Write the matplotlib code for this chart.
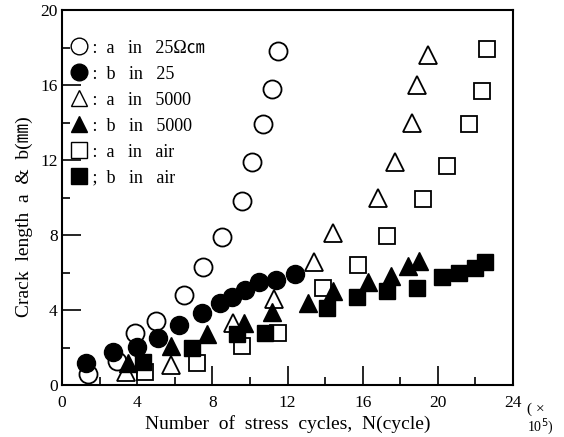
import matplotlib
matplotlib.use("Agg")
import matplotlib.pyplot as plt
from matplotlib.ticker import MultipleLocator
from matplotlib.lines import Line2D

plt.rcParams['font.family'] = ['Liberation Serif', 'Noto Sans CJK JP', 'DejaVu Sans']

# a in 25 ohm-cm (open circles)
a25_x = [1.4, 2.9, 3.9, 5.0, 6.5, 7.5, 8.5, 9.6, 10.1, 10.7, 11.2, 11.5]
a25_y = [0.6, 1.3, 2.8, 3.4, 4.8, 6.3, 7.9, 9.8, 11.9, 13.9, 15.8, 17.8]
# b in 25 (filled circles)
b25_x = [1.3, 2.7, 4.0, 5.1, 6.2, 7.45, 8.4, 9.05, 9.75, 10.5, 11.4, 12.4]
b25_y = [1.2, 1.75, 2.05, 2.5, 3.2, 3.85, 4.4, 4.7, 5.05, 5.5, 5.6, 5.9]
# a in 5000 (open triangles)
a5000_x = [3.4, 5.8, 9.1, 11.3, 13.4, 14.4, 16.8, 17.7, 18.6, 18.9, 19.5]
a5000_y = [0.7, 1.05, 3.3, 4.6, 6.55, 8.1, 10.0, 11.9, 14.0, 16.0, 17.6]
# b in 5000 (filled triangles)
b5000_x = [3.5, 5.8, 7.7, 9.7, 11.2, 13.1, 14.4, 16.3, 17.5, 18.4, 19.0]
b5000_y = [1.2, 2.1, 2.7, 3.3, 3.9, 4.4, 5.0, 5.5, 5.8, 6.35, 6.6]
# a in air (open squares)
aair_x = [4.4, 7.2, 9.6, 11.5, 13.9, 15.75, 17.3, 19.2, 20.5, 21.65, 22.35, 22.6]
aair_y = [0.7, 1.17, 2.1, 2.8, 5.2, 6.4, 7.95, 9.9, 11.7, 13.9, 15.7, 17.9]
# b in air (filled squares)
bair_x = [4.3, 6.9, 9.3, 10.8, 14.1, 15.7, 17.3, 18.9, 20.2, 21.1, 22.0, 22.5]
bair_y = [1.25, 2.0, 2.7, 2.8, 4.1, 4.7, 5.0, 5.2, 5.75, 6.0, 6.25, 6.55]

labels = [" :  a   in   25\u03a9\u339d", " :  b   in   25", " :  a   in   5000",
          " :  b   in   5000", " :  a   in   air", " ;  b   in   air"]

fig = plt.figure(figsize=(5.64, 4.37), dpi=100)
ax = fig.add_axes([0.11, 0.119, 0.7996, 0.858])

ms_c, ms_t, ms_s = 13, 13, 11
ax.plot(aair_x, aair_y, 's', ms=ms_s, mfc='white', mec='black', mew=1.3)
ax.plot(a5000_x, a5000_y, '^', ms=ms_t, mfc='white', mec='black', mew=1.3)
ax.plot(a25_x, a25_y, 'o', ms=ms_c, mfc='white', mec='black', mew=1.3)
ax.plot(bair_x, bair_y, 's', ms=ms_s, color='black')
ax.plot(b5000_x, b5000_y, '^', ms=ms_t, color='black')
ax.plot(b25_x, b25_y, 'o', ms=ms_c, color='black')

ax.set_xlim(0, 24)
ax.set_ylim(0, 20)
ax.xaxis.set_major_locator(MultipleLocator(4))
ax.xaxis.set_minor_locator(MultipleLocator(2))
ax.yaxis.set_major_locator(MultipleLocator(4))
ax.yaxis.set_minor_locator(MultipleLocator(2))
ax.tick_params(which='both', direction='in', labelsize=12.5, width=1.2)
ax.tick_params(which='major', length=14)
ax.tick_params(which='minor', length=6)
ax.tick_params(axis='x', pad=7)
ax.tick_params(axis='y', pad=3)
for s in ax.spines.values():
    s.set_linewidth(1.5)

ax.set_xlabel("Number  of  stress  cycles,  N(cycle)", fontsize=14, labelpad=3)
ax.set_ylabel("Crack  length  a  &  b(\u339c)", fontsize=14)
ax.yaxis.set_label_coords(-0.065, 0.45)
ax.text(1.03, -0.065, "( \u00d7", transform=ax.transAxes, fontsize=11, ha='left', va='center')
ax.text(1.03, -0.11, "10$^5$)", transform=ax.transAxes, fontsize=10, ha='left', va='center')

handles = [
    Line2D([], [], ls='', marker='o', ms=12, mfc='white', mec='black', mew=1.0),
    Line2D([], [], ls='', marker='o', ms=12, color='black'),
    Line2D([], [], ls='', marker='^', ms=12, mfc='white', mec='black', mew=1.0),
    Line2D([], [], ls='', marker='^', ms=12, color='black'),
    Line2D([], [], ls='', marker='s', ms=11, mfc='white', mec='black', mew=1.0),
    Line2D([], [], ls='', marker='s', ms=11, color='black'),
]
ax.legend(handles, labels, loc='upper left', bbox_to_anchor=(-0.01, 0.955),
          frameon=False, fontsize=13, handlelength=1.0, handletextpad=0.0,
          labelspacing=0.5, borderpad=0.2)

fig.savefig("out.png", dpi=100)
